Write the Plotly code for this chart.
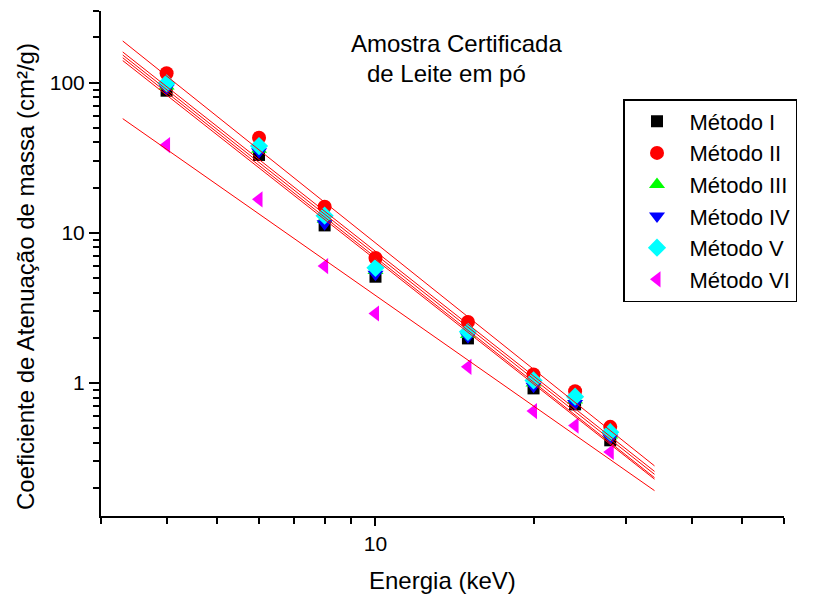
import numpy as np
import plotly.graph_objects as go

# ---- data ----
energia = [4, 6, 8, 10, 15, 20, 24, 28]
metodo_I = [88.4, 33.0, 11.2, 5.1, 1.98, 0.92, 0.72, 0.415]
metodo_II = [115.6, 43.0, 14.9, 6.8, 2.55, 1.14, 0.88, 0.51]
metodo_III = [95.0, 36.0, 12.3, 5.6, 2.10, 1.00, 0.77, 0.45]
metodo_IV = [91.8, 34.7, 11.5, 5.3, 2.03, 0.95, 0.73, 0.43]
metodo_V = [99.0, 37.8, 13.0, 5.84, 2.19, 1.04, 0.81, 0.47]
metodo_VI = [38.4, 16.7, 6.0, 2.9, 1.28, 0.65, 0.52, 0.347]
fit_range = [3.3, 34]

series_names = ["Método I", "Método II", "Método III", "Método IV", "Método V", "Método VI"]
series_vals = [metodo_I, metodo_II, metodo_III, metodo_IV, metodo_V, metodo_VI]
colors = ["#000000", "#FF0000", "#00FF00", "#0000FF", "#00FFFF", "#FF00FF"]
symbols = ["square", "circle", "triangle-up", "triangle-down", "diamond", "triangle-left"]
sizes = [12, 14, 14, 14, 14, 14]

y_major = [1, 10, 100]
y_minor = [0.2, 0.3, 0.4, 0.5, 0.6, 0.7, 0.8, 0.9, 2, 3, 4, 5, 6, 7, 8, 9,
           20, 30, 40, 50, 60, 70, 80, 90, 200, 300]
x_major = [10]
x_minor = [3, 4, 5, 6, 7, 8, 9, 20, 30, 40, 50, 60]

FONT = "Liberation Sans, Arial, sans-serif"
OFF = 8  # default page body margin in the browser

fig = go.Figure()
for name, vals, c, s, sz in zip(series_names, series_vals, colors, symbols, sizes):
    fig.add_trace(go.Scatter(x=energia, y=vals, mode="markers", name=name,
                             marker=dict(symbol=s, color=c, size=sz, line=dict(width=0))))

# power-law fits (linear in log-log), drawn over the markers
for vals in series_vals:
    b, a = np.polyfit(np.log10(energia), np.log10(vals), 1)
    xf = np.array(fit_range, dtype=float)
    yf = 10 ** (a + b * np.log10(xf))
    fig.add_trace(go.Scatter(x=xf, y=yf, mode="lines", showlegend=False,
                             line=dict(color="#FF0000", width=1), hoverinfo="skip"))

axis_common = dict(showline=True, linecolor="black", linewidth=2, mirror=False,
                   showgrid=False, zeroline=False, ticks="outside", tickcolor="black",
                   tickwidth=2, tickfont=dict(family=FONT, size=21, color="black"))

fig.update_xaxes(type="log", range=[np.log10(3), np.log10(60)],
                 tickmode="array", tickvals=x_major, ticktext=["10"], ticklen=8,
                 minor=dict(tickmode="array", tickvals=x_minor, ticks="outside",
                            ticklen=6, tickwidth=2, tickcolor="black", showgrid=False),
                 **axis_common)
fig.update_yaxes(type="log", range=[np.log10(0.13), np.log10(300)],
                 tickmode="array", tickvals=y_major, ticktext=["1", "10", "100"], ticklen=10,
                 minor=dict(tickmode="array", tickvals=y_minor, ticks="outside",
                            ticklen=6, tickwidth=2, tickcolor="black", showgrid=False),
                 **axis_common)

# plot area in page pixels: x 101..784, y 11..516
PL, PR, PT, PB = 101, 784, 11, 516
PW, PH = PR - PL, PB - PT


def px(xp):
    return (xp - PL) / PW


def py(yp):
    return (PB - yp) / PH


fig.update_layout(
    width=815 - OFF, height=599 - OFF,
    margin=dict(l=PL - OFF, r=815 - PR, t=PT - OFF, b=599 - PB, autoexpand=False),
    paper_bgcolor="white", plot_bgcolor="white",
    font=dict(family=FONT, size=24, color="black"),
    legend=dict(x=px(623), y=py(99), xanchor="left", yanchor="top",
                bordercolor="black", borderwidth=1.5, bgcolor="white",
                font=dict(family=FONT, size=22, color="black"),
                itemwidth=55, tracegroupgap=0),
    annotations=[
        dict(text="Amostra Certificada", xref="paper", yref="paper",
             x=px(349), y=py(44), xanchor="left", yanchor="middle",
             showarrow=False, font=dict(family=FONT, size=24)),
        dict(text="de Leite em pó", xref="paper", yref="paper",
             x=px(365), y=py(73), xanchor="left", yanchor="middle",
             showarrow=False, font=dict(family=FONT, size=24)),
        dict(text="Energia (keV)", xref="paper", yref="paper",
             x=px(442), y=py(580), xanchor="center", yanchor="middle",
             showarrow=False, font=dict(family=FONT, size=24)),
        dict(text="Coeficiente de Atenuação de massa (cm²/g)", xref="paper", yref="paper",
             x=px(25), y=py(277), xanchor="center", yanchor="middle",
             textangle=-90, showarrow=False, font=dict(family=FONT, size=24)),
    ],
)

fig.write_html("out.html")
